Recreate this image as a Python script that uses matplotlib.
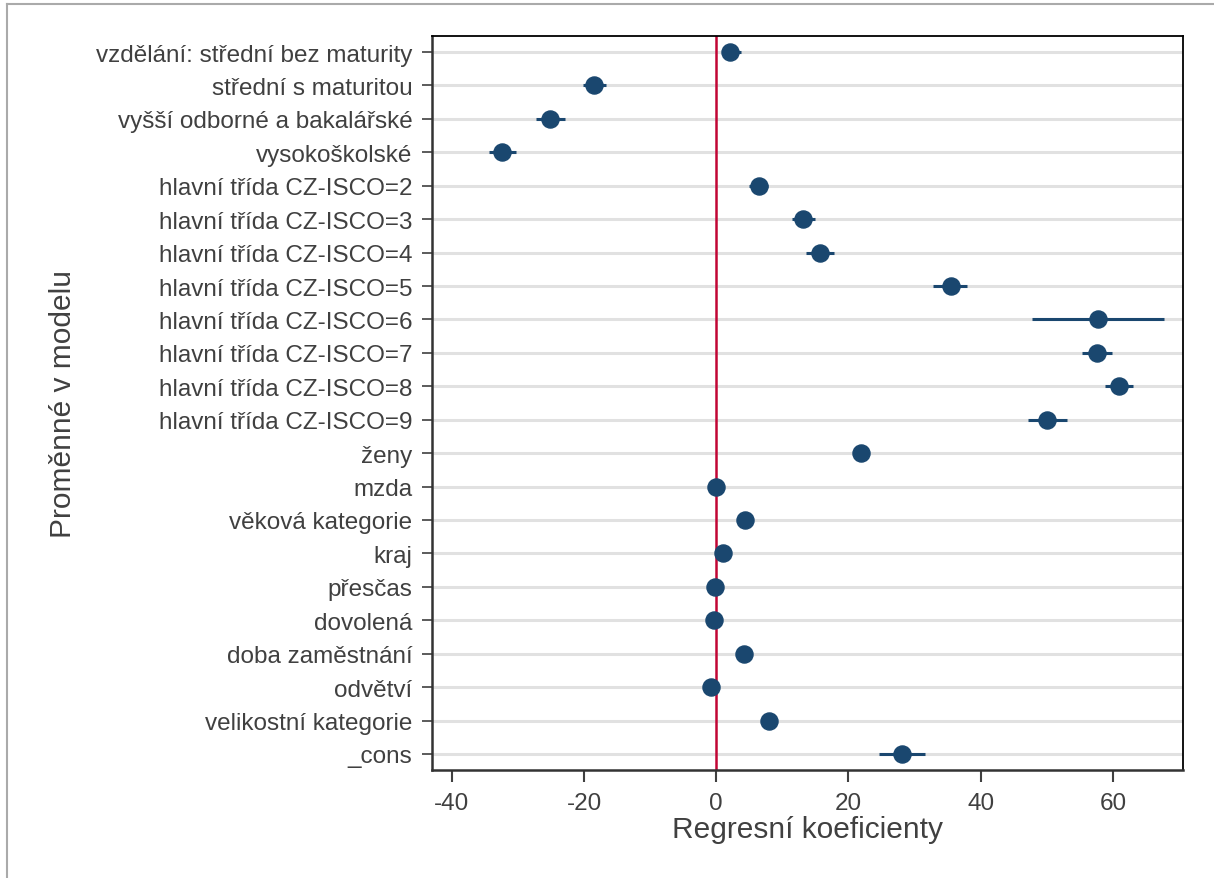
import matplotlib
matplotlib.use("Agg")
from matplotlib import pyplot as plt
from matplotlib.lines import Line2D

# === DATA ===
labels = [
    "vzdělání: střední bez maturity",
    "střední s maturitou",
    "vyšší odborné a bakalářské",
    "vysokoškolské",
    "hlavní třída CZ-ISCO=2",
    "hlavní třída CZ-ISCO=3",
    "hlavní třída CZ-ISCO=4",
    "hlavní třída CZ-ISCO=5",
    "hlavní třída CZ-ISCO=6",
    "hlavní třída CZ-ISCO=7",
    "hlavní třída CZ-ISCO=8",
    "hlavní třída CZ-ISCO=9",
    "ženy",
    "mzda",
    "věková kategorie",
    "kraj",
    "přesčas",
    "dovolená",
    "doba zaměstnání",
    "odvětví",
    "velikostní kategorie",
    "_cons",
]
coef = [2.1, -18.5, -25.2, -32.4, 6.4, 13.1, 15.7, 35.5, 57.7, 57.6, 60.9, 50.0,
        21.9, 0.0, 4.3, 1.0, -0.2, -0.3, 4.2, -0.8, 8.0, 28.1]
ci_lo = [0.8, -20.2, -27.3, -34.4, 4.9, 11.4, 13.5, 32.8, 47.7, 55.3, 58.8, 47.2,
         21.4, -0.1, 4.0, 0.8, -0.4, -0.5, 3.9, -1.0, 7.6, 24.6]
ci_hi = [3.7, -16.7, -22.9, -30.3, 7.9, 15.0, 17.8, 37.9, 67.7, 59.8, 63.0, 53.0,
         22.4, 0.1, 4.6, 1.2, 0.0, -0.1, 4.5, -0.6, 8.4, 31.5]
xticks = [-40, -20, 0, 20, 40, 60]

# === PLOT ===
plt.rcParams['font.family'] = ['Liberation Sans', 'DejaVu Sans']
txt = "#404040"
navy = "#1a476f"

fig = plt.figure(figsize=(12.14, 8.79), dpi=100)
ax = fig.add_axes([432 / 1214, 1 - 771 / 879, (1183 - 432) / 1214, (771 - 37) / 879])

ypos = list(range(1, len(labels) + 1))

# light row lines behind everything
for y in ypos:
    ax.axhline(y, color="#e1e1e1", lw=2.2, zorder=0)

ax.axvline(0, color="#c10534", lw=1.8, zorder=1)

ax.hlines(ypos, ci_lo, ci_hi, color=navy, lw=2.2, zorder=2)
ax.plot(coef, ypos, "o", color=navy, ms=12.3, zorder=3)

ax.set_xlim(-43.0, 70.6)
ax.set_ylim(len(labels) + 0.48, 0.52)
ax.set_yticks(ypos)
ax.set_yticklabels(labels)
ax.set_xticks(xticks)
ax.set_xticklabels([str(t) for t in xticks])

ax.tick_params(axis="y", labelsize=17.5, colors=txt, length=7, width=1.2, pad=7)
ax.tick_params(axis="x", labelsize=17.5, colors=txt, length=8.5, width=1.5, pad=7)
for lab in ax.get_xticklabels() + ax.get_yticklabels():
    lab.set_color(txt)

ax.set_xlabel("Regresní koeficienty", fontsize=21.5, color=txt, labelpad=1)
ax.set_ylabel("Proměnné v modelu", fontsize=21.5, color=txt, labelpad=14)

for side in ["left", "bottom"]:
    ax.spines[side].set_color("#333333")
    ax.spines[side].set_linewidth(1.8)
for side in ["top", "right"]:
    ax.spines[side].set_color("black")
    ax.spines[side].set_linewidth(1.3)

# outer frame (top and left edges)
fig.add_artist(Line2D([7 / 1214, 7 / 1214], [0, 1 - 5 / 879], color="#aaaaaa", lw=1.5, transform=fig.transFigure))
fig.add_artist(Line2D([7 / 1214, 1], [1 - 5 / 879, 1 - 5 / 879], color="#aaaaaa", lw=1.5, transform=fig.transFigure))

fig.savefig("out.png", dpi=100)
